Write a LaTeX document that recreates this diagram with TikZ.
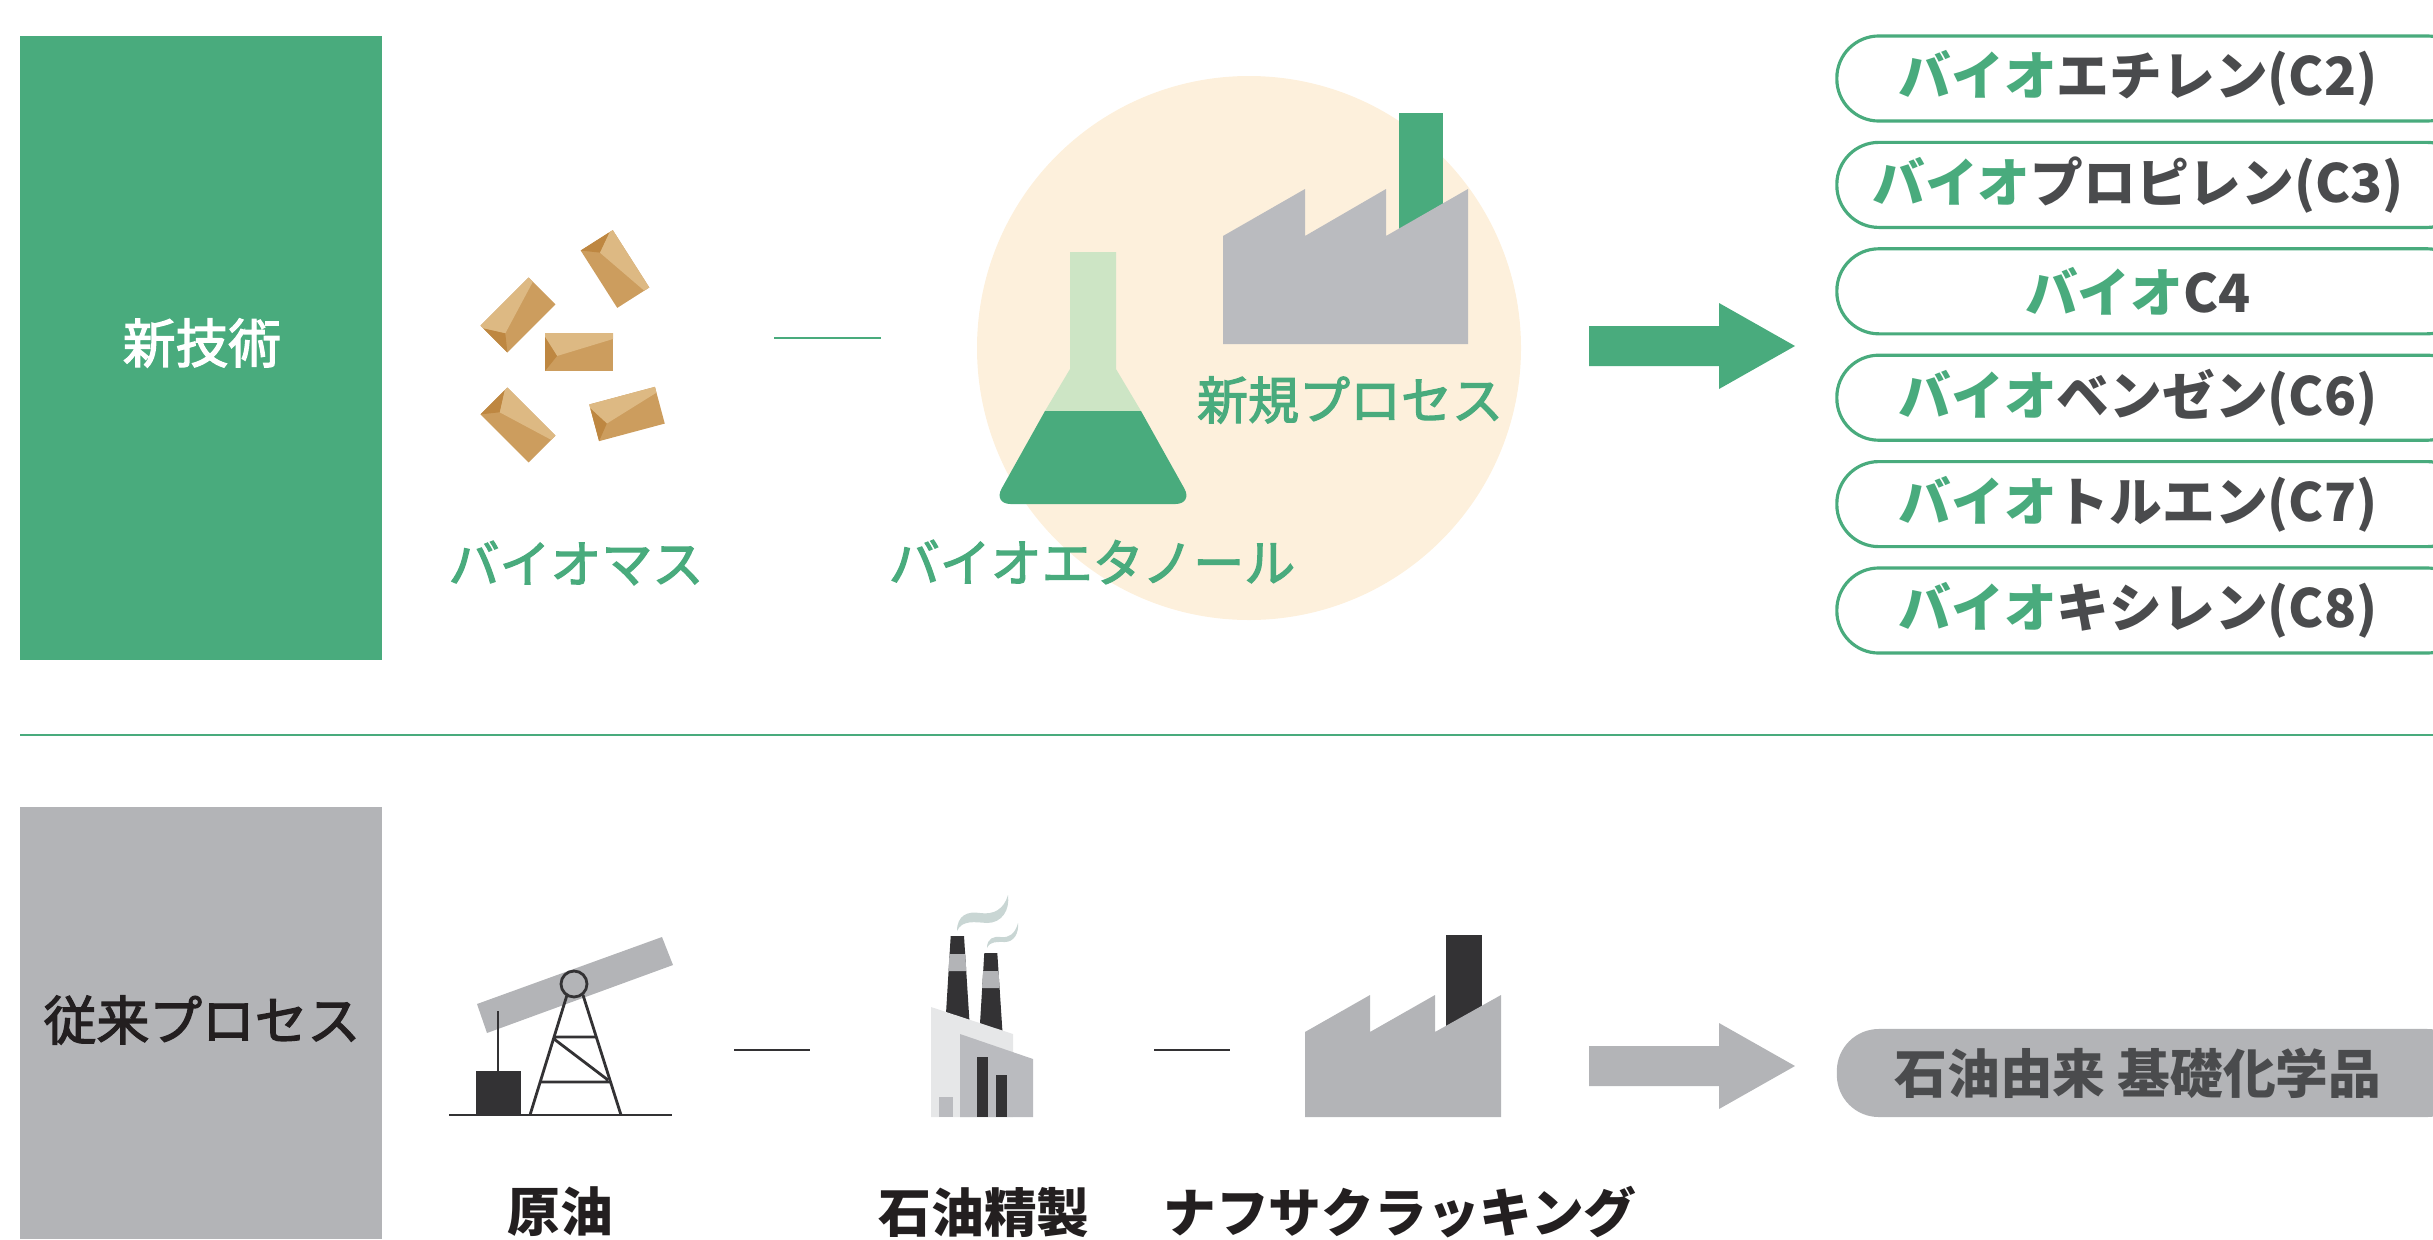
\documentclass[tikz,border=0pt]{standalone}
\usepackage{fontspec}
\setmainfont{Noto Sans CJK JP}
\newfontfamily\medium[FakeBold=2.5]{Noto Sans CJK JP}

\definecolor{leaf}{HTML}{49AB7D}
\definecolor{leaflight}{HTML}{CDE5C5}
\definecolor{cream}{HTML}{FDF0DC}
\definecolor{steel}{HTML}{BABBBF}
\definecolor{ash}{HTML}{B3B4B7}
\definecolor{coal}{HTML}{333234}
\definecolor{soot}{HTML}{231F20}
\definecolor{ink}{HTML}{4A4B4D}
\definecolor{fog}{HTML}{E6E7E8}
\definecolor{fume}{HTML}{C9D6D4}
\definecolor{woodlight}{HTML}{DDB983}
\definecolor{woodmid}{HTML}{CC9D5E}
\definecolor{wooddark}{HTML}{BE8741}

\tikzset{
  tag/.style={font=\fontsize{14.5pt}{17pt}\medium, text=leaf, inner sep=0pt},
  sidelabel/.style={font=\fontsize{15pt}{18pt}\medium, inner sep=0pt},
  steplabel/.style={font=\fontsize{15pt}{18pt}\selectfont\bfseries, text=soot, inner sep=0pt},
  pill/.style={draw=leaf, line width=0.9pt, fill=white, rounded corners=4.2mm,
    minimum width=6.32cm, minimum height=0.85cm},
  pilltext/.style={font=\fontsize{15pt}{18pt}\selectfont\bfseries, text=ink, inner sep=0pt},
  pump/.style={draw=coal, line width=0.8pt},
  chip/.pic={
    \fill[woodmid] (-34,-19) rectangle (34,19);
    \fill[woodlight] (-34,-19) -- (34,-19) -- (34,-13) -- (-22,4) -- (-34,-15) -- cycle;
    \fill[wooddark] (-34,-15) -- (-22,4) -- (-34,19) -- cycle;
  }
}

\begin{document}
\begin{tikzpicture}[x=0.01cm,y=-0.01cm]
\clip (0,0) rectangle (2433,1239);

% --- new technology row
\fill[leaf] (20,36) rectangle (382,660); % side box
\node[sidelabel, text=white] (newtech) at (202,343) {新技術};

% biomass chips
\pic[rotate=-57.5] at (615,269) {chip};
\pic[rotate=45] at (518,315) {chip};
\pic at (579,352) {chip};
\pic[rotate=-45] at (518,425) {chip};
\pic[rotate=15] at (627,414) {chip};
\node[tag] (biomass) at (576,563) {バイオマス};

\coordinate (chips-e) at (774,338);
\coordinate (plant-w) at (881,338);
\draw[leaf, line width=0.6pt] (chips-e) -- (plant-w);

\fill[cream] (1249,348) circle (272); % process disc

% flask
\fill[leaflight] (1070,252) -- (1116,252) -- (1116,369) -- (1141,411) -- (1045,411) -- (1070,369) -- cycle;
\fill[leaf] (1045,411) -- (1141,411) [rounded corners=5pt] -- (1193,504) -- (993,504) [sharp corners] -- cycle;
\node[tag] (ethanol) at (1092,562) {バイオエタノール};

% new plant
\fill[leaf] (1399,113) rectangle (1443,236);
\fill[steel] (1223,344) -- (1223,236) -- (1305,189) -- (1305,236) -- (1386,189) -- (1386,236) -- (1468,189) -- (1468,344) -- cycle;
\node[tag] (newproc) at (1350,400) {新規プロセス};

\fill[leaf] (1589,326) -- (1719,326) -- (1719,303) -- (1795,346) -- (1719,389) -- (1719,366) -- (1589,366) -- cycle; % arrow

% products
\foreach \name/\rest [count=\i from 0] in {c2/エチレン(C2), c3/プロピレン(C3), c4/C4, c6/ベンゼン(C6), c7/トルエン(C7), c8/キシレン(C8)}{
  \node[pill] (\name) at (2153,78.5+106.4*\i) {};
  \node[pilltext] (\name-t) at (2138,78.5+106.4*\i) {{\color{leaf}バイオ}\rest};
}

\draw[leaf, line width=0.6pt] (20,735) -- (2433,735); % divider

% --- conventional row
\fill[ash] (20,807) rectangle (382,1239); % side box
\node[sidelabel, text=soot] (oldproc) at (202,1020) {従来プロセス};

% pump jack
\fill[ash] (477,1004) -- (662,937) -- (673,965) -- (487,1033) -- cycle;
\draw[pump] (498,1011) -- (498,1071);
\fill[coal] (476,1071) rectangle (521,1115);
\draw[pump] (449,1115) -- (672,1115);
\draw[pump] (567,995) -- (530,1115) (583,995) -- (621,1115);
\draw[pump] (554,1037) -- (596,1037) (541,1082) -- (610,1082) (554,1039) -- (608,1080);
\filldraw[pump, fill=ash] (574,984) circle (13);
\node[steplabel] (crude) at (560,1212) {原油};

\coordinate (pump-e) at (734,1050);
\coordinate (refinery-w) at (810,1050);
\draw[coal, line width=0.6pt] (pump-e) -- (refinery-w);

% refinery
\fill[fume] (957,931) .. controls (957,915) and (968,911) .. (980,913) .. controls (994,915) and (1004,909) .. (1008,895)
  .. controls (1010,910) and (1002,923) .. (987,923) .. controls (974,922) and (962,920) .. (957,931) -- cycle;
\fill[fume] (987,948) .. controls (987,938) and (994,936) .. (1001,937) .. controls (1009,938) and (1015,934) .. (1018,923)
  .. controls (1019,933) and (1014,942) .. (1005,942) .. controls (997,942) and (990,941) .. (987,948) -- cycle;
\fill[coal] (950.7,936) -- (964,936) -- (970,1030) -- (945,1030) -- cycle;
\fill[ash] (949.5,954) -- (965.2,954) -- (966.3,971) -- (948.4,971) -- cycle;
\fill[coal] (984.3,953) -- (997.3,953) -- (1003,1040) -- (979,1040) -- cycle;
\fill[ash] (983.1,971) -- (998.5,971) -- (999.6,988) -- (982,988) -- cycle;
\fill[fog] (931,1007) -- (1013,1034) -- (1013,1117) -- (931,1117) -- cycle;
\fill[steel] (939,1097) rectangle (953,1117);
\fill[steel] (960,1034) -- (1033,1059) -- (1033,1117) -- (960,1117) -- cycle;
\fill[coal] (977,1057) rectangle (988,1117);
\fill[coal] (996,1075) rectangle (1007,1117);
\node[steplabel] (refine) at (984,1212) {石油精製};

\coordinate (refinery-e) at (1154,1050);
\coordinate (cracker-w) at (1230,1050);
\draw[coal, line width=0.6pt] (refinery-e) -- (cracker-w);

% cracker
\fill[coal] (1446,935) rectangle (1482,1040);
\fill[ash] (1305,1117) -- (1305,1032) -- (1370,995) -- (1370,1032) -- (1435,995) -- (1435,1032) -- (1501,995) -- (1501,1117) -- cycle;
\node[steplabel] (naphtha) at (1400,1212) {ナフサクラッキング};

\fill[ash] (1589,1046) -- (1719,1046) -- (1719,1023) -- (1795,1066) -- (1719,1109) -- (1719,1086) -- (1589,1086) -- cycle; % arrow

\node[pill, draw=none, fill=ash, minimum height=0.88cm] (petro) at (2153,1073) {};
\node[pilltext] (petro-t) at (2138,1073) {石油由来 基礎化学品};
\end{tikzpicture}
\end{document}
